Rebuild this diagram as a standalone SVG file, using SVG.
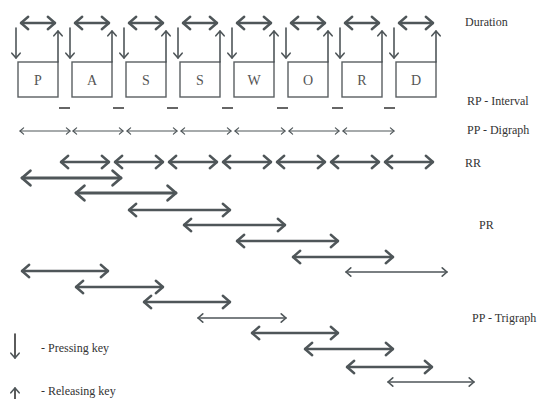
<svg xmlns="http://www.w3.org/2000/svg" width="537" height="399" viewBox="0 0 537 399">
<style>
.box{fill:#fff;stroke:#5a5f62;stroke-width:1.4}
.key{font-family:"Liberation Serif","DejaVu Serif",serif;font-size:14px;fill:#555;text-anchor:middle}
.lbl{font-family:"Liberation Serif","DejaVu Serif",serif;font-size:12px;fill:#333}
.a{fill:none;stroke:#4f5659;stroke-linecap:round;marker-start:url(#h);marker-end:url(#h)}
.s{fill:none;stroke:#4f5659;stroke-linecap:round;marker-end:url(#h)}
.w1{stroke-width:1.2}.w2{stroke-width:1.6}.w3{stroke-width:2.4}.w4{stroke-width:2.8}
.dash{stroke:#666;stroke-width:2}
</style>
<defs>
<marker id="h" markerUnits="strokeWidth" viewBox="-4 -3.5 5 7" refX="0" refY="0" markerWidth="5" markerHeight="7" orient="auto-start-reverse" overflow="visible">
<path d="M -3 -2.6 L 0 0 L -3 2.6" fill="none" stroke="#4f5659" stroke-width="1" stroke-linecap="round" stroke-linejoin="round"/>
</marker>
</defs>
<rect width="537" height="399" fill="#fff"/>
<g id="keys">
<g id="key-P"><rect class="box" x="18" y="62" width="40" height="35"/><text class="key" x="38" y="85">P</text></g>
<g id="key-A"><rect class="box" x="72" y="62" width="40" height="35"/><text class="key" x="92" y="85">A</text></g>
<g id="key-S1"><rect class="box" x="126" y="62" width="40" height="35"/><text class="key" x="146" y="85">S</text></g>
<g id="key-S2"><rect class="box" x="180" y="62" width="40" height="35"/><text class="key" x="200" y="85">S</text></g>
<g id="key-W"><rect class="box" x="234" y="62" width="40" height="35"/><text class="key" x="254" y="85">W</text></g>
<g id="key-O"><rect class="box" x="288" y="62" width="40" height="35"/><text class="key" x="308" y="85">O</text></g>
<g id="key-R"><rect class="box" x="342" y="62" width="40" height="35"/><text class="key" x="362" y="85">R</text></g>
<g id="key-D"><rect class="box" x="396" y="62" width="40" height="35"/><text class="key" x="416" y="85">D</text></g>
</g>
<g id="connectors">
<!-- duration arrows -->
<g>
<line class="a w3" x1="21" y1="23" x2="55" y2="23"/>
<line class="a w3" x1="75" y1="23" x2="109" y2="23"/>
<line class="a w3" x1="129" y1="23" x2="163" y2="23"/>
<line class="a w3" x1="183" y1="23" x2="217" y2="23"/>
<line class="a w3" x1="237" y1="23" x2="271" y2="23"/>
<line class="a w3" x1="291" y1="23" x2="325" y2="23"/>
<line class="a w3" x1="345" y1="23" x2="379" y2="23"/>
<line class="a w3" x1="399" y1="23" x2="433" y2="23"/>
</g>
<!-- press (down) arrows -->
<g>
<line class="s w2" x1="16" y1="28" x2="16" y2="58"/>
<line class="s w2" x1="70" y1="28" x2="70" y2="58"/>
<line class="s w2" x1="124" y1="28" x2="124" y2="58"/>
<line class="s w2" x1="178" y1="28" x2="178" y2="58"/>
<line class="s w2" x1="232" y1="28" x2="232" y2="58"/>
<line class="s w2" x1="286" y1="28" x2="286" y2="58"/>
<line class="s w2" x1="340" y1="28" x2="340" y2="58"/>
<line class="s w2" x1="394" y1="28" x2="394" y2="58"/>
</g>
<!-- release (up) arrows -->
<g>
<line class="s w2" x1="58" y1="62" x2="58" y2="31"/>
<line class="s w2" x1="112" y1="62" x2="112" y2="31"/>
<line class="s w2" x1="166" y1="62" x2="166" y2="31"/>
<line class="s w2" x1="220" y1="62" x2="220" y2="31"/>
<line class="s w2" x1="274" y1="62" x2="274" y2="31"/>
<line class="s w2" x1="328" y1="62" x2="328" y2="31"/>
<line class="s w2" x1="382" y1="62" x2="382" y2="31"/>
<line class="s w2" x1="436" y1="62" x2="436" y2="31"/>
</g>
<!-- RP interval dashes -->
<g>
<line class="dash" x1="59" y1="108" x2="70" y2="108"/>
<line class="dash" x1="113" y1="108" x2="124" y2="108"/>
<line class="dash" x1="167" y1="108" x2="178" y2="108"/>
<line class="dash" x1="222" y1="108" x2="233" y2="108"/>
<line class="dash" x1="277" y1="108" x2="288" y2="108"/>
<line class="dash" x1="332" y1="108" x2="343" y2="108"/>
<line class="dash" x1="384" y1="108" x2="395" y2="108"/>
</g>
<!-- PP digraph -->
<g>
<line class="a w1" x1="20" y1="131" x2="70" y2="131"/>
<line class="a w1" x1="73" y1="131" x2="123" y2="131"/>
<line class="a w1" x1="127" y1="131" x2="177" y2="131"/>
<line class="a w1" x1="181" y1="131" x2="231" y2="131"/>
<line class="a w1" x1="235" y1="131" x2="285" y2="131"/>
<line class="a w1" x1="289" y1="131" x2="339" y2="131"/>
<line class="a w1" x1="343" y1="131" x2="394" y2="131"/>
</g>
<!-- RR -->
<g>
<line class="a w3" x1="61" y1="162" x2="109" y2="162"/>
<line class="a w3" x1="115" y1="162" x2="163" y2="162"/>
<line class="a w3" x1="169" y1="162" x2="217" y2="162"/>
<line class="a w3" x1="223" y1="162" x2="271" y2="162"/>
<line class="a w3" x1="277" y1="162" x2="325" y2="162"/>
<line class="a w3" x1="331" y1="162" x2="379" y2="162"/>
<line class="a w3" x1="385" y1="162" x2="433" y2="162"/>
</g>
<!-- PR -->
<g>
<line class="a w4" x1="22" y1="178" x2="121" y2="178"/>
<line class="a w4" x1="76" y1="193" x2="176" y2="193"/>
<line class="a w3" x1="129" y1="210" x2="230" y2="210"/>
<line class="a w3" x1="184" y1="225" x2="285" y2="225"/>
<line class="a w3" x1="237" y1="241" x2="338" y2="241"/>
<line class="a w3" x1="293" y1="257" x2="393" y2="257"/>
<line class="a w2" x1="346" y1="272" x2="447" y2="272"/>
</g>
<!-- PP trigraph -->
<g>
<line class="a w3" x1="22" y1="271" x2="108" y2="271"/>
<line class="a w3" x1="76" y1="287" x2="163" y2="287"/>
<line class="a w3" x1="144" y1="302" x2="230" y2="302"/>
<line class="a w2" x1="198" y1="318" x2="286" y2="318"/>
<line class="a w3" x1="252" y1="333" x2="338" y2="333"/>
<line class="a w3" x1="305" y1="349" x2="393" y2="349"/>
<line class="a w3" x1="347" y1="367" x2="432" y2="367"/>
<line class="a w2" x1="388" y1="382" x2="474" y2="382"/>
</g>
</g>
<g id="labels">
<text class="lbl" x="465" y="26">Duration</text>
<text class="lbl" x="467" y="105">RP - Interval</text>
<text class="lbl" x="467" y="134">PP - Digraph</text>
<text class="lbl" x="465" y="167">RR</text>
<text class="lbl" x="479" y="229">PR</text>
<text class="lbl" x="472" y="322">PP - Trigraph</text>
</g>
<g id="legend">
<line class="s w2" x1="15" y1="334" x2="15" y2="358" style="stroke:#333"/>
<text class="lbl" x="41" y="352">- Pressing key</text>
<line class="s w2" x1="15" y1="399" x2="15" y2="388" style="stroke:#333"/>
<text class="lbl" x="41" y="395">- Releasing key</text>
</g>
</svg>
